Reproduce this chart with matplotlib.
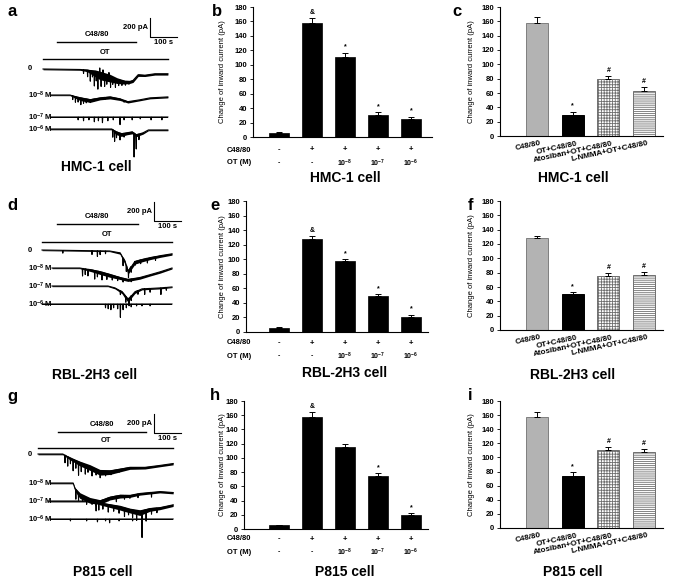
import numpy as np
import matplotlib
matplotlib.use("Agg")
import matplotlib.pyplot as plt

plt.rcParams['font.family'] = ['Liberation Sans', 'DejaVu Sans']
plt.rcParams['font.weight'] = 'bold'
plt.rcParams['mathtext.fontset'] = 'custom'
plt.rcParams['mathtext.rm'] = 'Liberation Sans:bold'
plt.rcParams['mathtext.default'] = 'rm'
plt.rcParams['hatch.linewidth'] = 0.6

W, H = 685, 582

# ---- data -------------------------------------------------------------
cells = ["HMC-1 cell", "RBL-2H3 cell", "P815 cell"]
trace_labels = ["0", "10$^{-8}$ M", "10$^{-7}$ M", "10$^{-6}$ M"]

c4880_signs = ["-", "+", "+", "+", "+"]
ot_doses = ["-", "-", "10$^{-8}$", "10$^{-7}$", "10$^{-6}$"]

hmc_dose_mean = [6, 158, 111, 30, 25]
hmc_dose_err = [1, 7, 6, 4, 3]
hmc_dose_marks = ["", "&", "*", "*", "*"]
rbl_dose_mean = [6, 128, 97, 49, 20]
rbl_dose_err = [1, 4, 3, 3, 4]
rbl_dose_marks = ["", "&", "*", "*", "*"]
p815_dose_mean = [5, 157, 115, 74, 19]
p815_dose_err = [1, 8, 5, 5, 3]
p815_dose_marks = ["", "&", "", "*", "*"]

treatments = ["C48/80", "OT+C48/80", "Atosiban+OT+C48/80", "L-NMMA+OT+C48/80"]
hmc_block_mean = [158, 30, 80, 63]
hmc_block_err = [8, 4, 4, 5]
rbl_block_mean = [128, 50, 76, 77]
rbl_block_err = [3, 3, 4, 4]
p815_block_mean = [157, 74, 110, 108]
p815_block_err = [8, 5, 5, 4]
block_marks = ["", "*", "#", "#"]

# current traces: time (s), mean current (pA), noise band width (pA),
# and the larger spikes (time s, depth pA)
hmc_0_t = [0, 137, 163, 192, 211, 248, 274, 303, 322, 333, 352, 377, 414, 462]
hmc_0_i = [0, -5, -10, -30, -50, -80, -110, -130, -130, -120, -60, -65, -50, -50]
hmc_0_a = [12, 12, 25, 70, 90, 80, 60, 40, 30, 30, 25, 20, 20, 20]
hmc_0_st = [150, 165, 175, 183, 190, 197, 203, 210, 215, 222, 228, 236, 244, 250, 258, 268, 280, 292, 305, 318]
hmc_0_sd = [40, 70, 110, 60, 150, 90, 170, -60, 130, -50, 120, 90, -40, 110, 70, 90, 60, 50, 40, 30]
hmc_8_t = [26, 100, 137, 174, 211, 248, 285, 314, 359, 396, 462]
hmc_8_i = [0, 0, -30, -50, -30, -20, -40, -70, -50, -30, -20]
hmc_8_a = [10, 10, 40, 40, 30, 30, 25, 20, 15, 15, 15]
hmc_8_st = [110, 120, 130, 140, 150, 160, 175, 190, 230, 300]
hmc_8_sd = [40, 60, 50, 70, 50, 40, 30, 20, 20, 20]
hmc_7_t = [26, 462]
hmc_7_i = [0, 0]
hmc_7_a = [15, 15]
hmc_7_st = [130, 150, 170, 190, 205, 220, 240, 260, 285, 300, 330, 360, 400, 440]
hmc_7_sd = [30, 40, 30, 50, 40, 60, 40, 30, 80, 30, 30, 20, 30, 30]
hmc_6_t = [26, 255, 270, 290, 310, 330, 345, 370, 390, 462]
hmc_6_i = [0, 0, -30, -50, -40, -30, -60, -40, -10, -10]
hmc_6_a = [12, 12, 40, 40, 30, 30, 30, 20, 12, 12]
hmc_6_st = [258, 265, 272, 285, 300, 337, 345, 355]
hmc_6_sd = [80, 110, 60, 70, 40, 250, 150, 60]

rbl_0_t = [0, 250, 289, 307, 318, 344, 370, 400, 437, 481]
rbl_0_i = [0, -10, -30, -120, -220, -120, -100, -80, -60, -40]
rbl_0_a = [10, 10, 20, 40, 50, 40, 35, 30, 25, 20]
rbl_0_st = [77, 185, 205, 215, 235, 300, 312, 320, 330, 345, 365, 390, 420]
rbl_0_sd = [30, 40, 60, 40, 30, 80, 60, 80, 60, 40, 40, 50, 40]
rbl_8_t = [37, 140, 185, 215, 252, 289, 318, 362, 400, 437, 481]
rbl_8_i = [0, 0, -20, -40, -70, -100, -120, -100, -70, -40, 0]
rbl_8_a = [10, 10, 30, 40, 40, 30, 30, 25, 20, 20, 15]
rbl_8_st = [150, 160, 170, 195, 205, 222, 240, 260, 280, 300, 330]
rbl_8_sd = [80, 60, 70, 90, 60, 80, 60, 50, 40, 40, 30]
rbl_7_t = [37, 244, 270, 296, 307, 318, 344, 370, 437, 481]
rbl_7_i = [0, 0, -20, -60, -100, -140, -60, -30, -20, -10]
rbl_7_a = [10, 10, 15, 30, 40, 40, 25, 15, 15, 10]
rbl_7_st = [290, 310, 322, 330, 355, 380, 400, 440, 460]
rbl_7_sd = [40, 60, 80, 50, 40, 60, 40, 70, 30]
rbl_6_t = [0, 481]
rbl_6_i = [0, 0]
rbl_6_a = [10, 10]
rbl_6_st = [235, 245, 255, 265, 280, 290, 300, 312, 330, 350, 370, 400]
rbl_6_sd = [40, 50, 60, 40, 50, 140, 60, 40, 30, 20, 20, 20]

p815_0_t = [0, 92, 118, 155, 192, 229, 266, 303, 340, 396, 451, 500]
p815_0_i = [0, 0, -40, -90, -130, -180, -180, -160, -140, -140, -120, -100]
p815_0_a = [12, 12, 30, 50, 60, 60, 50, 40, 30, 25, 20, 20]
p815_0_st = [100, 110, 120, 130, 140, 150, 160, 175, 185, 200, 215, 230, 250, 270, 300]
p815_0_sd = [80, 100, 60, 120, 80, 140, 90, 100, 70, 90, 60, 70, 50, 40, 30]
p815_8_t = [44, 130, 137, 155, 192, 229, 266, 303, 340, 377, 451, 500]
p815_8_i = [0, 0, -60, -120, -170, -190, -150, -130, -130, -110, -90, -100]
p815_8_a = [12, 12, 40, 60, 60, 50, 40, 40, 30, 25, 20, 20]
p815_8_st = [140, 150, 165, 180, 200, 215, 240, 260, 290, 320, 340, 370, 420]
p815_8_sd = [100, 80, 60, 70, 50, 60, 40, 30, 60, 40, 30, 40, 50]
p815_7_t = [40, 211, 229, 266, 303, 340, 377, 414, 451, 500]
p815_7_i = [0, 0, -20, -40, -60, -90, -110, -80, -70, -40]
p815_7_a = [14, 14, 30, 40, 50, 50, 60, 40, 30, 25]
p815_7_st = [215, 225, 240, 260, 280, 300, 320, 335, 350, 365, 385, 400, 420, 440]
p815_7_sd = [100, 80, 60, 80, 60, 70, 90, 60, 80, 100, 280, 120, 60, 50]
p815_6_t = [44, 500]
p815_6_i = [0, 0]
p815_6_a = [12, 12]
p815_6_st = [120, 180, 220, 250, 265, 300, 350]
p815_6_sd = [20, 20, 30, 20, 40, 20, 20]

# drug application (s)
hmc_c48 = (52, 344)
rbl_c48 = (55, 355)
p815_c48 = (74, 400)
hmc_ot = (0, 462)
rbl_ot = (0, 481)
p815_ot = (0, 500)

# ---- helpers -----------------------------------------------------------
SPX = 3.7    # s per pixel
PPX = 10.5   # pA per pixel


def px_rect(left, top, right, bottom):
    return [left / W, 1 - bottom / H, (right - left) / W, (bottom - top) / H]


def trace_path(t, cur, spk_t, spk_d):
    pts = list(zip(t, cur))
    for s, d in zip(spk_t, spk_d):
        b = np.interp(s, t, cur)
        pts += [(s - 1.2, b), (s, b - d), (s + 1.2, b)]
    pts.sort()
    xs, ys = zip(*pts)
    return np.array(xs), np.array(ys)


def trace_panel(fig, top, bottom, x0, bases, traces, c48, ot, c48_y, ot_y, corner, title, title_xy):
    ax = fig.add_axes(px_rect(0, top, 205, bottom))
    ref = bases[0]
    ax.set_xlim((0 - x0) * SPX, (205 - x0) * SPX)
    ax.set_ylim(-(bottom - ref) * PPX, -(top - ref) * PPX)
    ax.axis('off')

    def X(px):
        return (px - x0) * SPX

    def Y(py):
        return -(py - ref) * PPX

    for base, lab, (t, cur, amp, st, sd) in zip(bases, trace_labels, traces):
        off = Y(base)
        t = np.array(t)
        cur = np.array(cur, dtype=float)
        amp = np.array(amp, dtype=float)
        ax.fill_between(t, cur - 0.7 * amp + off, cur + 0.3 * amp + off,
                        color='black', lw=0)
        xs, ys = trace_path(t, cur, st, sd)
        ax.plot(xs, ys + off, color='black', lw=0.8)
        ax.text(X(28), off, lab, ha='left', va='center', fontsize=5.5)

    ax.plot(c48, [Y(c48_y)] * 2, color='black', lw=1.0)
    ax.text(np.mean(c48), Y(c48_y - 7), "C48/80", ha='center', va='center', fontsize=5.5)
    ax.plot(ot, [Y(ot_y)] * 2, color='black', lw=1.0)
    ax.text(np.mean(ot), Y(ot_y - 7), "OT", ha='center', va='center', fontsize=5.5)

    bx, by = X(corner[0]), Y(corner[1])
    ax.plot([bx, bx, bx + 100], [by + 200, by, by], color='black', lw=0.8)
    ax.text(X(corner[0] - 2), by + 100, "200 pA", ha='right', va='center', fontsize=5.5)
    ax.text(bx + 50, Y(corner[1] + 6), "100 s", ha='center', va='center', fontsize=5.5)

    fig.text(title_xy[0] / W, 1 - title_xy[1] / H, title, ha='center', va='center', fontsize=10)


def style_axes(ax, left, right, top, bottom, ylab_x):
    ax.set_ylim(0, 180)
    ax.set_yticks(range(0, 181, 20))
    ax.tick_params(axis='y', labelsize=5.5, length=2.5, width=0.6, pad=1.5)
    ax.set_xticks([])
    for s in ['top', 'right']:
        ax.spines[s].set_visible(False)
    for s in ['left', 'bottom']:
        ax.spines[s].set_linewidth(0.8)
    ax.set_ylabel("Change of inward current (pA)", fontsize=5.5)
    ax.yaxis.set_label_coords((ylab_x - left) / (right - left), 0.5)


def dose_panel(fig, left, right, top, bottom, means, errs, marks, rows_y, title, title_xy):
    ax = fig.add_axes(px_rect(left, top, right, bottom))
    x = np.arange(len(means))
    ax.bar(x, means, width=0.6, color='black', edgecolor='black', linewidth=0.5)
    ax.errorbar(x, means, yerr=[np.zeros(len(errs)), errs], fmt='none', ecolor='black',
                elinewidth=0.7, capsize=2.2, capthick=0.7)
    for xi, m, e, s in zip(x, means, errs, marks):
        ax.annotate(s, (xi, m + e), xytext=(0, 1.5), textcoords='offset points',
                    ha='center', va='bottom', fontsize=5)
    ax.set_xlim((left - 279) / 33, (right - 279) / 33)
    style_axes(ax, left, right, top, bottom, 226)
    for xi, sgn, dose in zip(x, c4880_signs, ot_doses):
        ax.annotate(sgn, (xi, 1 - rows_y[0] / H), xycoords=('data', 'figure fraction'),
                    ha='center', va='center', fontsize=5.5)
        ax.annotate(dose, (xi, 1 - rows_y[1] / H), xycoords=('data', 'figure fraction'),
                    ha='center', va='center', fontsize=5)
    fig.text(227 / W, 1 - rows_y[0] / H, "C48/80", ha='left', va='center', fontsize=5.5)
    fig.text(227 / W, 1 - rows_y[1] / H, "OT (M)", ha='left', va='center', fontsize=5.5)
    fig.text(title_xy[0] / W, 1 - title_xy[1] / H, title, ha='center', va='center', fontsize=10)


def block_panel(fig, left, right, top, bottom, means, errs, title, title_xy):
    ax = fig.add_axes(px_rect(left, top, right, bottom))
    x = np.arange(len(means))
    faces = ['#b3b3b3', 'black', 'white', 'white']
    edges = ['#7f7f7f', 'black', '#6f6f6f', '#6f6f6f']
    hatches = [None, None, '+' * 6, '-' * 8]
    for xi, m, fc, ec, h in zip(x, means, faces, edges, hatches):
        ax.bar(xi, m, width=0.62, color=fc, edgecolor=ec, hatch=h, linewidth=0.7)
    ax.errorbar(x, means, yerr=[np.zeros(len(errs)), errs], fmt='none', ecolor='black',
                elinewidth=0.7, capsize=2.2, capthick=0.7)
    for xi, m, e, s in zip(x, means, errs, block_marks):
        ax.annotate(s, (xi, m + e), xytext=(0, 1.5), textcoords='offset points',
                    ha='center', va='bottom', fontsize=5)
    ax.set_xlim((left - 537) / 35.7, (right - 537) / 35.7)
    style_axes(ax, left, right, top, bottom, 475)
    for xi, lab in zip(x, treatments):
        ax.annotate(lab, (xi + 0.1, 0), xytext=(0, -3), textcoords='offset points',
                    ha='right', va='top', rotation=12, rotation_mode='anchor', fontsize=5.8)
    fig.text(title_xy[0] / W, 1 - title_xy[1] / H, title, ha='center', va='center', fontsize=10)


# ---- figure ------------------------------------------------------------
fig = plt.figure(figsize=(W / 100, H / 100), dpi=100)

trace_panel(fig, 0, 185, 43, [69, 95, 117, 129],
            [(hmc_0_t, hmc_0_i, hmc_0_a, hmc_0_st, hmc_0_sd),
             (hmc_8_t, hmc_8_i, hmc_8_a, hmc_8_st, hmc_8_sd),
             (hmc_7_t, hmc_7_i, hmc_7_a, hmc_7_st, hmc_7_sd),
             (hmc_6_t, hmc_6_i, hmc_6_a, hmc_6_st, hmc_6_sd)],
            hmc_c48, hmc_ot, 42, 59, (150, 37), cells[0], (96, 167))
trace_panel(fig, 192, 385, 42, [250, 268, 286, 304],
            [(rbl_0_t, rbl_0_i, rbl_0_a, rbl_0_st, rbl_0_sd),
             (rbl_8_t, rbl_8_i, rbl_8_a, rbl_8_st, rbl_8_sd),
             (rbl_7_t, rbl_7_i, rbl_7_a, rbl_7_st, rbl_7_sd),
             (rbl_6_t, rbl_6_i, rbl_6_a, rbl_6_st, rbl_6_sd)],
            rbl_c48, rbl_ot, 224, 242, (154, 221), cells[1], (95, 375))
trace_panel(fig, 388, 582, 38, [454, 483, 501, 519],
            [(p815_0_t, p815_0_i, p815_0_a, p815_0_st, p815_0_sd),
             (p815_8_t, p815_8_i, p815_8_a, p815_8_st, p815_8_sd),
             (p815_7_t, p815_7_i, p815_7_a, p815_7_st, p815_7_sd),
             (p815_6_t, p815_6_i, p815_6_a, p815_6_st, p815_6_sd)],
            p815_c48, p815_ot, 432, 448, (154, 433), cells[2], (103, 572))

dose_panel(fig, 253, 432, 7, 137, hmc_dose_mean, hmc_dose_err, hmc_dose_marks,
           (150, 163), cells[0], (345, 178))
dose_panel(fig, 246, 428, 201, 332, rbl_dose_mean, rbl_dose_err, rbl_dose_marks,
           (343, 356), cells[1], (345, 373))
dose_panel(fig, 244, 428, 401, 529, p815_dose_mean, p815_dose_err, p815_dose_marks,
           (539, 552), cells[2], (345, 572))

block_panel(fig, 500, 663, 7, 136, hmc_block_mean, hmc_block_err, cells[0], (573, 178))
block_panel(fig, 500, 663, 201, 330, rbl_block_mean, rbl_block_err, cells[1], (573, 375))
block_panel(fig, 500, 663, 401, 528, p815_block_mean, p815_block_err, cells[2], (573, 572))

for letter, (lx, ly) in zip("abcdefghi", [(8, 11), (212, 11), (452, 11), (7, 205), (210, 205),
                                          (468, 205), (7, 397), (210, 396), (468, 396)]):
    fig.text(lx / W, 1 - ly / H, letter, ha='left', va='center', fontsize=12)

fig.savefig("out.png", dpi=100)
